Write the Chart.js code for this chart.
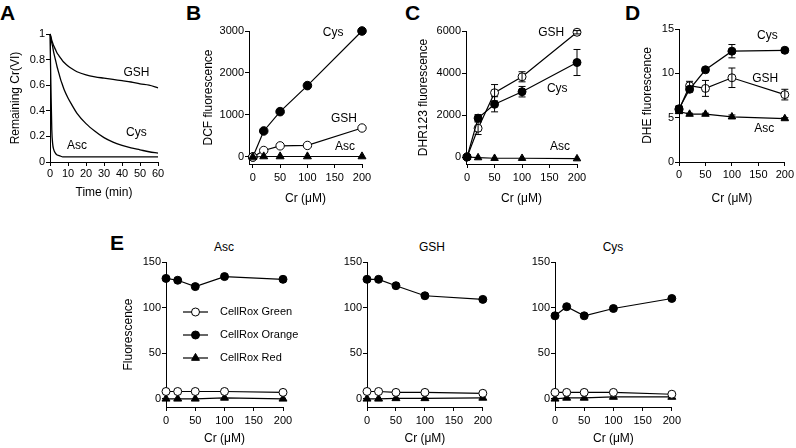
<!DOCTYPE html>
<html>
<head>
<meta charset="utf-8">
<script src="https://cdn.jsdelivr.net/npm/chart.js@4"></script>
<style>
  body { margin: 0; background: #fff; }
  #wrap { position: relative; width: 796px; height: 448px; overflow: hidden; font-family: "Liberation Sans", Arial, sans-serif; }
  canvas { position: absolute; }
  .letter { position: absolute; font-weight: bold; font-size: 21px; line-height: 21px; }
  .ptitle { position: absolute; font-size: 12px; width: 80px; text-align: center; }
</style>
</head>
<body>
<div id="wrap">
  <div class="letter" style="left:0px;top:2px">A</div>
  <div class="letter" style="left:186px;top:2px">B</div>
  <div class="letter" style="left:405px;top:2px">C</div>
  <div class="letter" style="left:625px;top:2px">D</div>
  <div class="letter" style="left:110px;top:232px">E</div>
  <div class="ptitle" style="left:184px;top:240px">Asc</div>
  <div class="ptitle" style="left:392px;top:240px">GSH</div>
  <div class="ptitle" style="left:573px;top:240px">Cys</div>
  <canvas id="chartA"></canvas>
  <canvas id="chartB"></canvas>
  <canvas id="chartC"></canvas>
  <canvas id="chartD"></canvas>
  <canvas id="chartE2"></canvas>
  <canvas id="chartE3"></canvas>
  <canvas id="chartE1"></canvas>
</div>
<script>
// ===== Dữ liệu =====
// Panel A: Remaining Cr(VI) theo thời gian (min)
const timeA = [0, 0.5, 1, 1.5, 2, 3, 4, 5, 6, 7, 8, 10, 12, 15, 20, 25, 30, 35, 40, 45, 50, 55, 60];
const gshA  = [1.00, 0.98, 0.95, 0.93, 0.91, 0.88, 0.85, 0.83, 0.81, 0.79, 0.775, 0.75, 0.73, 0.705, 0.68, 0.665, 0.655, 0.645, 0.635, 0.625, 0.61, 0.60, 0.58];
const cysA  = [1.00, 0.97, 0.93, 0.90, 0.86, 0.80, 0.74, 0.69, 0.64, 0.60, 0.56, 0.50, 0.45, 0.38, 0.30, 0.24, 0.19, 0.155, 0.13, 0.11, 0.095, 0.08, 0.07];
const ascA  = [1.00, 0.60, 0.25, 0.14, 0.10, 0.07, 0.055, 0.05, 0.045, 0.04, 0.04, 0.04, 0.04, 0.04, 0.04, 0.04, 0.04, 0.04, 0.04, 0.04, 0.04, 0.04, 0.04];

// Nồng độ Cr (uM) cho B-E
const crX = [0, 20, 50, 100, 200];

// Panel B: DCF
const dcfCys = [0, 620, 1080, 1700, 3000];
const dcfGsh = [0, 155, 265, 275, 690];
const dcfAsc = [0, 12, 12, 12, 12];

// Panel C: DHR123 (mean, error)
const dhrGsh = [0, 1370, 3060, 3820, 5940];
const dhrGshErr = [0, 300, 390, 240, 80];
const dhrCys = [0, 1850, 2510, 3110, 4500];
const dhrCysErr = [0, 170, 360, 250, 620];
const dhrAsc = [0, -30, -60, -60, -80];

// Panel D: DHE (mean, error)
const dheCys = [6.0, 8.2, 10.4, 12.5, 12.6];
const dheCysErr = [0.3, 0.3, 0.2, 0.75, 0.2];
const dheGsh = [5.9, 8.6, 8.3, 9.5, 7.6];
const dheGshErr = [0.4, 0.5, 0.9, 1.1, 0.6];
const dheAsc = [5.7, 5.4, 5.4, 5.1, 4.9];
const dheAscErr = [0.2, 0.1, 0.1, 0.2, 0.1];

// Panel E: CellRox Green / Orange / Red
const ascGreen = [8, 8, 8, 8, 7];
const ascOrange = [132, 130, 123, 134, 131];
const ascRed = [0, 0, 0, 1, 0];
const gshGreen = [8, 8, 7, 7, 6];
const gshOrange = [131, 131, 124, 113, 109];
const gshRed = [0, 0, 0.5, 0.5, 1];
const cysGreen = [7, 7, 7, 7, 5];
const cysOrange = [91, 101, 91, 99, 110];
const cysRed = [0, 1, 1, 2, 2];

// Tick
const ticksA_x = [0, 10, 20, 30, 40, 50, 60];
const ticksA_y = [0, 0.2, 0.4, 0.6, 0.8, 1];
const ticksCr = [0, 50, 100, 150, 200];
const ticksB_y = [0, 1000, 2000, 3000];
const ticksC_y = [0, 2000, 4000, 6000];
const ticksD_y = [0, 5, 10, 15];
const ticksE_y = [0, 50, 100, 150];

// Nhãn series (toạ độ dữ liệu)
const labelsA = [{ text: "GSH", x: 48, y: 0.70 }, { text: "Cys", x: 48, y: 0.23 }, { text: "Asc", x: 15, y: 0.125 }];
const labelsB = [{ text: "Cys", x: 147, y: 2950 }, { text: "GSH", x: 167, y: 905 }, { text: "Asc", x: 169, y: 240 }];
const labelsC = [{ text: "GSH", x: 153, y: 5900 }, { text: "Cys", x: 164, y: 3240 }, { text: "Asc", x: 169, y: 480 }];
const labelsD = [{ text: "Cys", x: 167, y: 14.3 }, { text: "GSH", x: 163, y: 9.4 }, { text: "Asc", x: 161, y: 3.8 }];

// Legend panel E (chỉ trong chart Asc)
const legendE = ["CellRox Green", "CellRox Orange", "CellRox Red"];
const legendBox = { canvas: "chartE1", left: 183, top: 312, step: 23 };

Chart.defaults.font.family = '"Liberation Sans", Arial, sans-serif';
Chart.defaults.color = "#000";

// ===== Plugin =====
// Error bar vẽ sau các điểm
const errorBarPlugin = {
  id: "errorBars",
  afterDatasetsDraw(chart) {
    const ctx = chart.ctx;
    const ys = chart.scales.y;
    chart.data.datasets.forEach((ds, i) => {
      if (!ds.errors) return;
      const meta = chart.getDatasetMeta(i);
      ctx.save();
      ctx.strokeStyle = "#000";
      ctx.lineWidth = 1;
      ds.data.forEach((p, j) => {
        const e = ds.errors[j];
        if (!e) return;
        const px = meta.data[j].x;
        const top = ys.getPixelForValue(p.y + e);
        const bot = ys.getPixelForValue(p.y - e);
        ctx.beginPath();
        ctx.moveTo(px, top); ctx.lineTo(px, bot);
        ctx.moveTo(px - 3.5, top); ctx.lineTo(px + 3.5, top);
        ctx.moveTo(px - 3.5, bot); ctx.lineTo(px + 3.5, bot);
        ctx.stroke();
      });
      ctx.restore();
    });
  }
};

// Vẽ 1 marker (dùng cho legend)
function marker(ctx, style, r, x, y) {
  ctx.beginPath();
  if (style === "tri") {
    ctx.moveTo(x, y - r);
    ctx.lineTo(x + r * 0.866, y + r * 0.5);
    ctx.lineTo(x - r * 0.866, y + r * 0.5);
    ctx.closePath();
  } else {
    ctx.arc(x, y, r, 0, Math.PI * 2);
  }
  ctx.fillStyle = style === "open" ? "#fff" : "#000";
  ctx.fill();
  ctx.strokeStyle = "#000";
  ctx.lineWidth = 1;
  ctx.stroke();
}

// Chữ GSH / Cys / Asc + legend của panel E
const textPlugin = {
  id: "seriesText",
  afterDraw(chart) {
    const ctx = chart.ctx;
    const xs = chart.scales.x, ys = chart.scales.y;
    const items = chart.config.data.labelsText || [];
    ctx.save();
    ctx.fillStyle = "#000";
    ctx.font = '12px "Liberation Sans", Arial, sans-serif';
    ctx.textAlign = "center";
    ctx.textBaseline = "middle";
    items.forEach(it => {
      ctx.fillText(it.text, xs.getPixelForValue(it.x), ys.getPixelForValue(it.y));
    });
    if (chart.canvas.id === legendBox.canvas) {
      // toạ độ trang -> toạ độ canvas
      const ox = parseFloat(chart.canvas.style.left), oy = parseFloat(chart.canvas.style.top);
      const styles = ["open", "fill", "tri"];
      const radii = [4, 4, 4.6];
      ctx.font = '11px "Liberation Sans", Arial, sans-serif';
      ctx.textAlign = "left";
      legendE.forEach((name, k) => {
        const x = legendBox.left - ox;
        const y = legendBox.top + k * legendBox.step - oy;
        ctx.strokeStyle = "#000";
        ctx.lineWidth = 1.2;
        ctx.beginPath();
        ctx.moveTo(x, y); ctx.lineTo(x + 25, y);
        ctx.stroke();
        marker(ctx, styles[k], radii[k], x + 12.5, y);
        ctx.fillStyle = "#000";
        ctx.fillText(name, x + 37, y);
      });
    }
    ctx.restore();
  }
};

// ===== Helper =====
function pts(xs, ys) {
  return xs.map((x, i) => ({ x: x, y: ys[i] }));
}

function series(xs, ys, style, radius, errors) {
  const open = style === "open";
  return {
    data: pts(xs, ys),
    errors: errors,
    borderColor: "#000",
    borderWidth: 1.2,
    pointStyle: style === "tri" ? "triangle" : "circle",
    pointRadius: radius,
    pointBorderWidth: 1,
    pointBorderColor: "#000",
    pointBackgroundColor: open ? "#fff" : "#000",
    backgroundColor: open ? "#fff" : "#000",
    fill: false,
    clip: false
  };
}

function axis(o) {
  return {
    type: "linear",
    min: o.min, max: o.max,
    afterFit: s => { if (o.w) s.width = o.w; if (o.h) s.height = o.h; },
    afterBuildTicks: s => { s.ticks = o.ticks.map(v => ({ value: v })); },
    grid: { drawOnChartArea: false, drawTicks: true, tickLength: 4, color: "#000", tickColor: "#000", lineWidth: 1 },
    border: { display: true, color: "#000", width: 1 },
    ticks: { color: "#000", padding: o.pad, font: { size: 11 }, maxRotation: 0, autoSkip: false, callback: v => String(v) },
    title: { display: !!o.title, text: o.title, color: "#000", font: { size: 12 }, padding: { top: o.titlePad || 0, bottom: 0 } }
  };
}

function panel(id, box, plot, datasets, o) {
  const c = document.getElementById(id);
  c.width = box.w; c.height = box.h;
  c.style.left = box.x + "px"; c.style.top = box.y + "px";
  c.style.width = box.w + "px"; c.style.height = box.h + "px";
  return new Chart(c, {
    type: "line",
    data: { datasets: datasets, labelsText: o.labels || [] },
    plugins: [errorBarPlugin, textPlugin],
    options: {
      responsive: false,
      animation: false,
      layout: { padding: { left: 0, top: plot.t - box.y, right: box.x + box.w - plot.r, bottom: 0 } },
      plugins: {
        legend: { display: false },
        tooltip: { enabled: false }
      },
      scales: {
        x: axis({ min: o.xMin, max: o.xMax, ticks: o.xTicks, pad: o.xPad, title: o.xTitle, titlePad: o.xTitlePad, h: box.y + box.h - plot.b }),
        y: axis({ min: o.yMin, max: o.yMax, ticks: o.yTicks, pad: 1, title: o.yTitle, titlePad: o.yTitlePad, w: plot.l - box.x })
      }
    }
  });
}

const crTitle = "Cr (\u03bcM)";

window.addEventListener("DOMContentLoaded", () => {
  // A
  const lineA = ys => ({ data: pts(timeA, ys), borderColor: "#000", borderWidth: 1.3, pointRadius: 0, cubicInterpolationMode: "monotone", fill: false, clip: false });
  panel("chartA", { x: 0, y: 26, w: 172, h: 174 }, { l: 50, r: 158, t: 34, b: 162 },
    [lineA(gshA), lineA(cysA), lineA(ascA)],
    { xMin: 0, xMax: 60, xTicks: ticksA_x, xPad: 1, xTitle: "Time (min)", xTitlePad: 1,
      yMin: 0, yMax: 1, yTicks: ticksA_y, yTitle: "Remaining Cr(VI)", yTitlePad: 8, labels: labelsA });

  // B
  panel("chartB", { x: 190, y: 23, w: 190, h: 183 }, { l: 249, r: 362, t: 31, b: 164 },
    [series(crX, dcfAsc, "tri", 4.6), series(crX, dcfGsh, "open", 4.2), series(crX, dcfCys, "fill", 4.3)],
    { xMin: -7, xMax: 200, xTicks: ticksCr, xPad: 3, xTitle: crTitle, xTitlePad: 2,
      yMin: -167, yMax: 3000, yTicks: ticksB_y, yTitle: "DCF fluorescence", yTitlePad: 11, labels: labelsB });

  // C
  panel("chartC", { x: 405, y: 23, w: 185, h: 183 }, { l: 466, r: 577, t: 31, b: 164 },
    [series(crX, dhrAsc, "tri", 4.3), series(crX, dhrCys, "fill", 4, dhrCysErr), series(crX, dhrGsh, "open", 4, dhrGshErr)],
    { xMin: -2, xMax: 200, xTicks: ticksCr, xPad: 3, xTitle: crTitle, xTitlePad: 2,
      yMin: -333, yMax: 6000, yTicks: ticksC_y, yTitle: "DHR123 fluorescence", yTitlePad: 11, labels: labelsC });

  // D
  panel("chartD", { x: 620, y: 21, w: 176, h: 185 }, { l: 679, r: 786, t: 29, b: 162 },
    [series(crX, dheAsc, "tri", 4.3, dheAscErr), series(crX, dheCys, "fill", 4, dheCysErr), series(crX, dheGsh, "open", 4, dheGshErr)],
    { xMin: 0, xMax: 200, xTicks: ticksCr, xPad: 2, xTitle: crTitle, xTitlePad: 2,
      yMin: 0, yMax: 15, yTicks: ticksD_y, yTitle: "DHE fluorescence", yTitlePad: 20, labels: labelsD });

  // E
  const eSets = (g, o, r) => [series(crX, g, "open", 4), series(crX, o, "fill", 4), series(crX, r, "tri", 4.6)];
  const eOpts = yTitle => ({
    xMin: 0, xMax: 200, xTicks: ticksCr, xPad: 3, xTitle: crTitle, xTitlePad: 2,
    yMin: -9, yMax: 150, yTicks: ticksE_y, yTitle: yTitle, yTitlePad: 11
  });
  // canvas rộng hơn để legend không bị cắt
  panel("chartE1", { x: 110, y: 240, w: 215, h: 206 }, { l: 166, r: 283, t: 262, b: 407 },
    eSets(ascGreen, ascOrange, ascRed), eOpts("Fluorescence"));
  panel("chartE2", { x: 320, y: 240, w: 175, h: 206 }, { l: 367, r: 483, t: 262, b: 407 },
    eSets(gshGreen, gshOrange, gshRed), eOpts(""));
  panel("chartE3", { x: 508, y: 240, w: 176, h: 206 }, { l: 555, r: 672, t: 262, b: 407 },
    eSets(cysGreen, cysOrange, cysRed), eOpts(""));
});
</script>
</body>
</html>
